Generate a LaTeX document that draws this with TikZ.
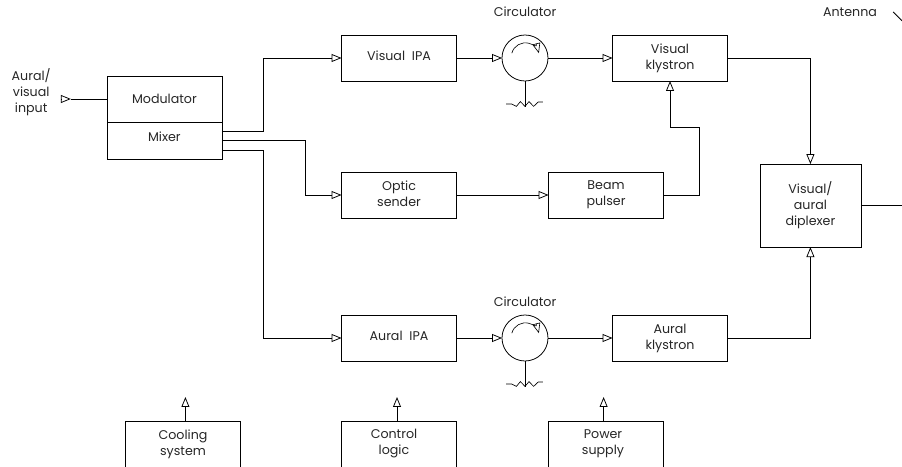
\documentclass[tikz,border=0pt]{standalone}
\usepackage{fontspec}
\setmainfont{Poppins}
\usetikzlibrary{arrows.meta, positioning}
\newcommand{\linestrut}{\rule[-0.2\baselineskip]{0pt}{\baselineskip}}

\begin{document}
\begin{tikzpicture}[
  every node/.style={font=\fontsize{9}{11.4}\selectfont, align=center, outer sep=0pt, inner sep=0pt,
                     text=black!85, execute at begin node=\linestrut, execute at end node=\linestrut},
  block/.style={draw, line width=0.55pt, minimum width=2.875cm, minimum height=1.15cm},
  circu/.style={draw, line width=0.55pt, circle, minimum size=1.15cm},
  arr/.style={-{Triangle[open, length=0.25cm, width=0.2cm]}, line width=0.55pt},
  wire/.style={line width=0.55pt},
]
\useasboundingbox (0,0) rectangle (22.55,-11.675);

% Modulator / mixer stack
\node[block] (mod) at (4.11,-2.475) {Modulator};
\node[block, below=0cm of mod, minimum height=0.925cm] (mix) {\raisebox{0.1cm}[0pt][0pt]{Mixer}};

% Visual chain (top row)
\node[block] (vipa) at (9.975,-1.45) {\raisebox{0.06cm}[0pt][0pt]{Visual\ \ IPA}};
\node[circu, right=1.1375cm of vipa] (vcirc) {};
\node[block, right=1.6125cm of vcirc] (vkly) {Visual\\klystron};
\node[above=0.38cm of vcirc] (vlab) {Circulator};

% Optic path (middle row)
\node[block, below=2.275cm of vipa] (optic) {Optic\\sender};
\node[block, right=2.3cm of optic] (beam) {Beam\\pulser};

% Aural chain (lower row)
\node[block, below=2.425cm of optic] (aipa) {\raisebox{0.06cm}[0pt][0pt]{Aural\ \ IPA}};
\node[circu, right=1.1375cm of aipa] (acirc) {};
\node[block, right=1.6125cm of acirc] (akly) {Aural\\klystron};
\node[above=0.13cm of acirc] (alab) {Circulator};

% Diplexer and antenna
\node[block, minimum width=2.525cm, minimum height=2.075cm] (dipl) at (20.26,-5.14) {Visual/\\aural\\diplexer};
\node (ant) at (21.25,-0.3) {Antenna};
\coordinate (anta) at (22.33,-0.3);
\coordinate (antb) at (22.55,-0.52);
\coordinate (dout) at (22.55,-5.125);

% Support units (bottom row)
\node[block, below=1.5cm of aipa] (ctrl) {\hspace*{-0.25cm}Control\\\hspace*{-0.25cm}logic};
\node[block, left=2.525cm of ctrl] (cool) {Cooling\\system};
\node[block, right=2.3cm of ctrl] (pow) {\hspace*{-0.15cm}Power\\\hspace*{-0.15cm}supply};

% Input
\node (inp) at (0.78,-2.31) {Aural/\\visual\\input};
\coordinate (inpa) at (1.52,-2.475);
\coordinate (inpb) at (1.77,-2.475);

% Arrows: input and mixer outputs
\draw[arr] (inpa) -- (inpb);
\draw[wire] (inpb) -- (mod.west);
\draw[arr] ([yshift=0.24cm]mix.east) -- ++(1.025,0) |- (vipa.west);
\draw[arr] (mix.east) -- ++(2.075,0) |- (optic.west);
\draw[arr] ([yshift=-0.24cm]mix.east) -- ++(1.025,0) |- (aipa.west);

% Arrows: visual chain
\draw[arr] (vipa.east) -- (vcirc.west);
\draw[arr] (vcirc.east) -- (vkly.west);
\draw[arr] (optic.east) -- (beam.west);
\draw[arr] (beam.east) -- ++(0.9,0) -- ++(0,1.7) -| (vkly.south);
\draw[arr] (vkly.east) -| (dipl.north);

% Arrows: aural chain
\draw[arr] (aipa.east) -- (acirc.west);
\draw[arr] (acirc.east) -- (akly.west);
\draw[arr] (akly.east) -| (dipl.south);

% Diplexer to antenna
\draw[wire] (dipl.east |- dout) -- (dout);
\draw[wire] (anta) -- (antb);

% Support arrows
\draw[arr] ([xshift=0.06cm]cool.north) -- ++(0,0.6);
\draw[arr] ([xshift=-0.05cm]ctrl.north) -- ++(0,0.6);
\draw[arr] ([xshift=-0.06cm]pow.north) -- ++(0,0.6);

% Circulator symbols
\foreach \c in {vcirc, acirc} {
  \draw[arr, line width=0.45pt] ([shift={(-0.33cm,0.12cm)}]\c.center) arc[start angle=165, end angle=15, radius=0.35cm];
  \draw[wire] (\c.south) -- ++(0,-0.65);
  \draw[line width=0.45pt] ([yshift=-0.575cm]\c.south) ++(-0.475,0) -- ++(0.14,0) -- ++(0.12,-0.06) -- ++(0.1,0.12) -- ++(0.115,-0.12) -- ++(0.1,0.12) -- ++(0.115,-0.12) -- ++(0.115,0.11) -- ++(0.115,0);
}
\end{tikzpicture}
\end{document}
